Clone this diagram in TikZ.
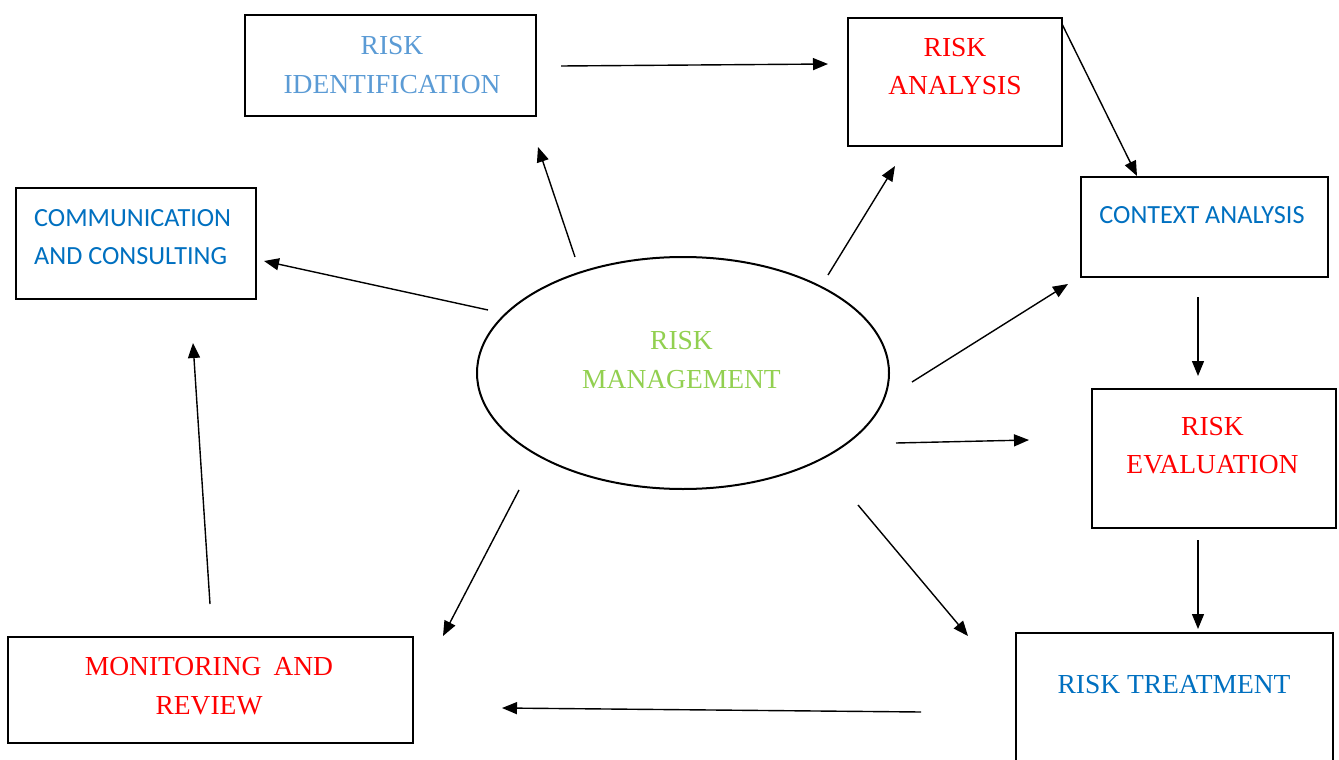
\documentclass[tikz,border=0pt]{standalone}
\usepackage{fontspec}
\usetikzlibrary{shapes.geometric,arrows.meta}
\newfontfamily\tnr{Liberation Serif}
\newfontfamily\calib{Carlito}
\definecolor{lblue}{HTML}{5B9BD5}
\definecolor{dblue}{HTML}{0070C0}
\definecolor{rred}{HTML}{FF0000}
\definecolor{lgreen}{HTML}{92D050}
\begin{document}
\begin{tikzpicture}[x=1pt,y=-1pt,
  box/.style={draw, line width=2pt, rectangle, inner sep=0pt},
  txt/.style={inner sep=0pt, align=center, font=\tnr\fontsize{27.5}{38.5}\selectfont},
  stxt/.style={inner sep=0pt, align=left, font=\calib\fontsize{26.2}{38}\selectfont},
  arr/.style={line width=1.4pt, -{Triangle[length=15pt,width=12pt]}}]
\fill[white] (0,0) rectangle (1339,760);
\clip (0,0) rectangle (1339,760);
% boxes
\node[box, minimum width=291pt, minimum height=101pt] (id) at (390.5,65.5) {};
\node[box, minimum width=214pt, minimum height=128pt] (an) at (955,82) {};
\node[box, minimum width=247pt, minimum height=100pt] (ctx) at (1204.5,227) {};
\node[box, minimum width=240pt, minimum height=111pt] (com) at (136,243.5) {};
\node[draw, ellipse, line width=2pt, inner sep=0pt, minimum width=412pt, minimum height=232pt] (mgmt) at (683,373) {};
\node[box, minimum width=244pt, minimum height=139pt] (ev) at (1214,458.5) {};
\node[box, minimum width=317pt, minimum height=167pt] (tr) at (1174.5,716.5) {};
\node[box, minimum width=405pt, minimum height=106pt] (mon) at (210.5,690) {};
% texts
\node[txt, text=lblue] (idt) at (392,65) {RISK\\IDENTIFICATION};
\node[txt, text=rred] (ant) at (955,66.5) {RISK\\ANALYSIS};
\node[stxt, text=dblue] (ctxt) at (1202,215) {CONTEXT ANALYSIS};
\node[stxt, text=dblue, anchor=west] (comt) at (34,237) {COMMUNICATION\\AND CONSULTING};
\node[txt, text=lgreen] (mgt) at (681.5,360) {RISK\\MANAGEMENT};
\node[txt, text=rred] (evt) at (1212.5,445.5) {RISK\\EVALUATION};
\node[txt, text=dblue] (trt) at (1174,685) {RISK TREATMENT};
\node[txt, text=rred] (mont) at (209,686) {MONITORING\hspace{12pt}AND\\REVIEW};
% connector ends
\coordinate (idR) at (561,66);   \coordinate (anL) at (828,64);
\coordinate (anR) at (1062,24);  \coordinate (ctxT) at (1137,176);
\coordinate (ctxB) at (1198,297); \coordinate (evT) at (1198,376);
\coordinate (evB) at (1198,540);  \coordinate (trT) at (1198,629);
\coordinate (trL) at (921,712);   \coordinate (monR) at (502,708);
\coordinate (monT) at (210,604);  \coordinate (comB) at (193,343);
\coordinate (m1) at (575,257);  \coordinate (idB) at (538,147);
\coordinate (m2) at (828,275);  \coordinate (anB) at (895,166);
\coordinate (m3) at (912,382);  \coordinate (ctxL) at (1068,284);
\coordinate (m4) at (896,443);  \coordinate (evL) at (1029,440);
\coordinate (m5) at (858,505);  \coordinate (trTL) at (968,636);
\coordinate (m6) at (519,490);  \coordinate (monTR) at (443,636);
\coordinate (m7) at (488,310);  \coordinate (comR) at (264,261);
% connectors
\draw[arr] (idR) -- (anL);
\draw[arr] (anR) -- (ctxT);
\draw[arr] (ctxB) -- (evT);
\draw[arr] (evB) -- (trT);
\draw[arr] (trL) -- (monR);
\draw[arr] (monT) -- (comB);
\draw[arr] (m1) -- (idB);
\draw[arr] (m2) -- (anB);
\draw[arr] (m3) -- (ctxL);
\draw[arr] (m4) -- (evL);
\draw[arr] (m5) -- (trTL);
\draw[arr] (m6) -- (monTR);
\draw[arr] (m7) -- (comR);
\end{tikzpicture}
\end{document}
